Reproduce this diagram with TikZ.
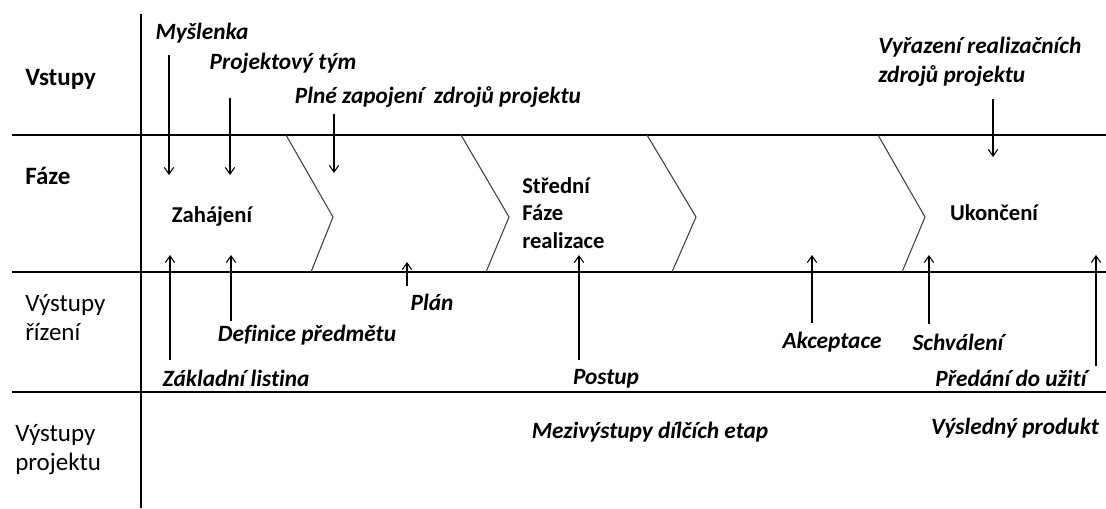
\documentclass[tikz,border=0pt]{standalone}
\usepackage{fontspec}
\setmainfont{Carlito}[Ligatures=NoCommon]
\usetikzlibrary{arrows.meta,calc}

\begin{document}
\begin{tikzpicture}[x=0.75pt,y=-0.75pt,
    lane/.style={line width=1pt},
    chev/.style={line width=0.8pt,black!75},
    arr/.style={line width=0.8pt,-{Straight Barb[length=5pt,width=7pt]}},
    row/.style={inner sep=0pt,align=left,font=\fontsize{18.75}{21.75}\selectfont},
    rowb/.style={inner sep=0pt,align=left,font=\fontsize{18.75}{21.75}\selectfont\bfseries},
    phase/.style={inner sep=0pt,align=left,font=\fontsize{17}{20.6}\selectfont\bfseries},
    note/.style={inner sep=0pt,align=left,font=\fontsize{17.5}{21.75}\selectfont\bfseries\itshape}]
\useasboundingbox (0,0) rectangle (1106,508);
%\draw [help lines,step=50] (0,0) grid (1106,508);
% rows
\draw[lane] (12,135)--(1106,135);
\draw[lane] (12,272)--(1106,272);
\draw[lane] (12,392)--(1106,392);
\draw[lane] (141,14)--(141,508);
% phases
\draw[chev] (286,135)--(333,217)--(311,272);
\draw[chev] (461,135)--(509,217)--(486,272);
\draw[chev] (647,135)--(696,217)--(672,272);
\draw[chev] (878,135)--(925,217)--(902,272);
% row titles
\node[rowb,anchor=west] (vst) at (25,79) {Vstupy};
\node[rowb,anchor=west] (faz) at (25,176) {Fáze};
\node[row,anchor=west] (vyr) at (25,318) {Výstupy\\řízení};
\node[row,anchor=west] (vpr) at (15,450) {Výstupy\\projektu};
% phase names
\node[phase] (zah) at (212,216) {Zahájení};
\node[phase,anchor=west] (stf) at (522,213) {Střední\\Fáze\\realizace};
\node[phase] (uko) at (994,213) {Ukončení};
% inputs
\node[note] (mys) at (202,33) {Myšlenka};
\node[note] (prj) at (283,63) {Projektový tým};
\node[note] (pln) at (438,97) {Plné zapojení~ zdrojů projektu};
\node[note,anchor=west] (vyz) at (878,62) {Vyřazení realizačních\\zdrojů projektu};
\coordinate (mysT) at (169,175);
\coordinate (prjT) at (230,175);
\coordinate (plnT) at (334,173);
\coordinate (vyzT) at (993,157);
\draw[arr] ($(mys.south -| mysT)+(0,12)$) -- (mysT);
\draw[arr] ($(prj.south -| prjT)+(0,25)$) -- (prjT);
\draw[arr] ($(pln.south -| plnT)+(0,6)$) -- (plnT);
\draw[arr] ($(vyz.south -| vyzT)+(0,12)$) -- (vyzT);
% management outputs
\node[note] (zak) at (236,378) {Základní listina};
\node[note] (dfn) at (307,335) {Definice předmětu};
\node[note] (pla) at (432,302) {Plán};
\node[note] (pos) at (606,379) {Postup};
\node[note] (akc) at (832,342) {Akceptace};
\node[note] (sch) at (958,342) {Schválení};
\node[note] (pre) at (1011,378) {Předání do užití};
\coordinate (zakT) at (170,255);
\coordinate (dfnT) at (231,255);
\coordinate (plaT) at (407,262);
\coordinate (posT) at (579,255);
\coordinate (akcT) at (812,255);
\coordinate (schT) at (929,255);
\coordinate (preT) at (1096,255);
\draw[arr] ($(zak.north -| zakT)+(0,-9)$) -- (zakT);
\draw[arr] ($(dfn.north -| dfnT)+(0,-4)$) -- (dfnT);
\draw[arr] ($(pla.north -| plaT)+(0,-7)$) -- (plaT);
\draw[arr] ($(pos.north -| posT)+(0,-9)$) -- (posT);
\draw[arr] ($(akc.north -| akcT)+(0,-9)$) -- (akcT);
\draw[arr] ($(sch.north -| schT)+(0,-9)$) -- (schT);
\draw[arr] ($(pre.north -| preT)+(0,-3)$) -- (preT);
% project outputs
\node[note] (mez) at (650,432) {Mezivýstupy dílčích etap};
\node[note] (vys) at (1015,428) {Výsledný produkt};
\end{tikzpicture}
\end{document}
